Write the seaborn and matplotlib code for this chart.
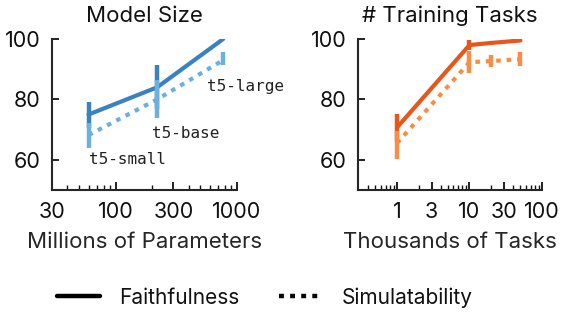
import numpy as np
import pandas as pd
import matplotlib
matplotlib.use("Agg")
import matplotlib.pyplot as plt
import matplotlib.ticker as mticker
from matplotlib.lines import Line2D
import seaborn as sns

# ── Data ──────────────────────────────────────────────────────────────────────

size_params = [60, 220, 770]               # millions of parameters
size_labels = ["t5-small", "t5-base", "t5-large"]
size_faith = [75.0, 84.0, 100.0]
size_faith_lo = [70.5, 76.7, 100.0]
size_faith_hi = [79.2, 91.3, 100.0]
size_sim = [68.2, 80.0, 93.0]
size_sim_lo = [64.0, 73.7, 91.3]
size_sim_hi = [72.3, 86.3, 95.7]

tasks_k = [1, 10, 20, 50]                  # thousands of tasks
tasks_faith = [70.7, 98.0, 98.7, 99.5]
tasks_faith_lo = [66.0, 96.3, 98.2, 99.1]
tasks_faith_hi = [75.3, 99.7, 99.2, 99.9]
tasks_sim = [65.5, 92.3, 92.7, 93.3]
tasks_sim_lo = [60.3, 88.7, 90.7, 91.0]
tasks_sim_hi = [69.7, 96.0, 94.7, 95.7]

BLUE_DARK, BLUE_LIGHT = "#3a81c2", "#6cb0de"
ORANGE_DARK, ORANGE_LIGHT = "#e8561a", "#fa8c45"
DOTS = (0, (1.1, 1.4))

# ── Style ─────────────────────────────────────────────────────────────────────

sns.set_style("ticks")
plt.rcParams["font.family"] = ["Inter", "DejaVu Sans"]
plt.rcParams.update({
    "axes.linewidth": 1.5,
    "xtick.direction": "in",
    "ytick.direction": "in",
    "xtick.major.width": 1.3,
    "ytick.major.width": 1.3,
    "xtick.minor.width": 1.0,
    "xtick.major.size": 6,
    "ytick.major.size": 5,
    "xtick.minor.size": 3.5,
    "text.color": "#111111",
    "xtick.color": "#111111",
    "ytick.color": "#111111",
})


def draw_panel(ax, x, faith, flo, fhi, sim, slo, shi, dark, light):
    df = pd.DataFrame({
        "x": list(x) * 2,
        "score": list(faith) + list(sim),
        "metric": ["Faithfulness"] * len(x) + ["Simulatability"] * len(x),
    })
    sns.lineplot(data=df[df.metric == "Faithfulness"], x="x", y="score",
                 color=dark, lw=3, ax=ax, legend=False)
    sns.lineplot(data=df[df.metric == "Simulatability"], x="x", y="score",
                 color=light, lw=3, ls=DOTS, ax=ax, legend=False)
    ax.vlines(x, flo, fhi, color=dark, lw=3.2, zorder=3)
    ax.vlines(x, slo, shi, color=light, lw=3.2, zorder=4)

    ax.set_xscale("log")
    ax.set_ylim(50, 100)
    ax.set_yticks([60, 80, 100])
    ax.set_ylabel("")
    ax.tick_params(axis="both", labelsize=15.5)
    ax.tick_params(axis="x", pad=9)
    ax.tick_params(axis="y", pad=8)
    sns.despine(ax=ax)


fig = plt.figure(figsize=(5.61, 3.13), dpi=100)
ax1 = fig.add_axes([52 / 561, 123 / 313, 185 / 561, 151 / 313])
ax2 = fig.add_axes([358 / 561, 123 / 313, 184 / 561, 151 / 313])

# ── Left: model size ─────────────────────────────────────────────────────────
draw_panel(ax1, size_params, size_faith, size_faith_lo, size_faith_hi,
           size_sim, size_sim_lo, size_sim_hi, BLUE_DARK, BLUE_LIGHT)
ax1.set_xlim(30, 1000)
ax1.xaxis.set_major_locator(mticker.FixedLocator([30, 100, 300, 1000]))
ax1.xaxis.set_major_formatter(mticker.FixedFormatter(["30", "100", "300", "1000"]))
ax1.xaxis.set_minor_locator(mticker.FixedLocator(
    [40, 50, 60, 70, 80, 90, 200, 400, 500, 600, 700, 800, 900]))
ax1.xaxis.set_minor_formatter(mticker.NullFormatter())
ax1.set_xlabel("Millions of Parameters", fontsize=16, labelpad=7)
ax1.set_title("Model Size", fontsize=16, pad=12)

label_pos = [(60, 60.0), (200, 68.7), (570, 84.3)]
for name, (lx, ly) in zip(size_labels, label_pos):
    ax1.text(lx, ly, name, fontsize=11.5, family="DejaVu Sans Mono",
             color="#222222", va="center", ha="left", clip_on=False)

# ── Right: training tasks ────────────────────────────────────────────────────
draw_panel(ax2, tasks_k, tasks_faith, tasks_faith_lo, tasks_faith_hi,
           tasks_sim, tasks_sim_lo, tasks_sim_hi, ORANGE_DARK, ORANGE_LIGHT)
ax2.set_xlim(0.29, 100)
ax2.xaxis.set_major_locator(mticker.FixedLocator([1, 3, 10, 30, 100]))
ax2.xaxis.set_major_formatter(mticker.FixedFormatter(["1", "3", "10", "30", "100"]))
ax2.xaxis.set_minor_locator(mticker.FixedLocator(
    [0.4, 0.5, 0.6, 0.7, 0.8, 0.9, 2, 4, 5, 6, 7, 8, 9,
     20, 40, 50, 60, 70, 80, 90]))
ax2.xaxis.set_minor_formatter(mticker.NullFormatter())
ax2.set_xlabel("Thousands of Tasks", fontsize=16, labelpad=7)
ax2.set_title("# Training Tasks", fontsize=16, pad=12)

# ── Legend ───────────────────────────────────────────────────────────────────
handles = [
    Line2D([0], [0], color="black", lw=3.2, label="Faithfulness"),
    Line2D([0], [0], color="black", lw=3.2, ls=DOTS, label="Simulatability"),
]
fig.legend(handles=handles, loc="center", bbox_to_anchor=(0.4715, 0.05),
           ncol=2, frameon=False, fontsize=15, handlelength=2.1,
           columnspacing=1.9, handletextpad=0.9)

fig.savefig("out.png", dpi=100)
